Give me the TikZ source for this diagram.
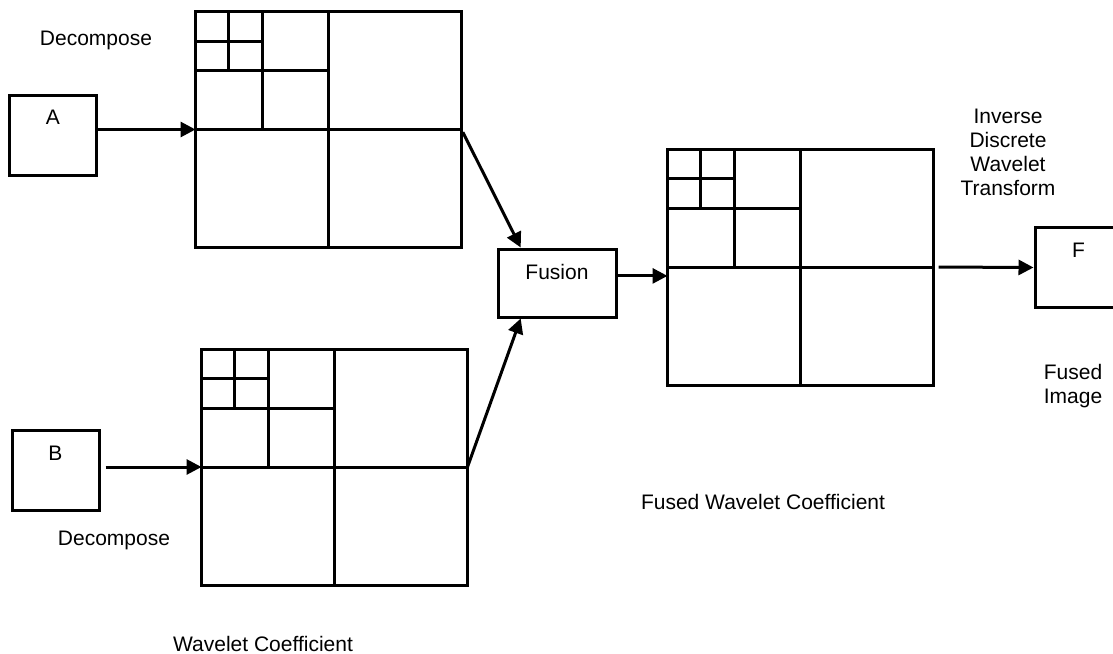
\documentclass[tikz,border=0pt]{standalone}
\usepackage{fontspec}
\setmainfont{Liberation Sans}
\usetikzlibrary{arrows.meta,positioning,calc}

\tikzset{
  imgbox/.style={draw, line width=1.5pt, minimum width=43.5pt, minimum height=40pt, inner sep=0pt},
  boxtext/.style={anchor=center, yshift=-12pt},
  coeffgrid/.style={draw, line width=1.5pt, minimum width=133pt, minimum height=118pt, inner sep=0pt, outer sep=0pt},
  gridline/.style={line width=1.5pt},
  flow/.style={line width=1.5pt, -{Triangle[length=7.5pt, width=7.5pt]}},
  caption/.style={anchor=base},
}

\begin{document}
\begin{tikzpicture}[x=0.5pt, y=-0.5pt, font=\fontsize{10.5}{12}\selectfont]
\useasboundingbox (0,0) rectangle (1113,653);

% Source images
\node[imgbox, label={[boxtext]north:A}] (A) at (53,135) {};
\node[imgbox, label={[boxtext]north:B}] (B) at (55.5,470.5) {};

% Wavelet coefficient grids
\node[coeffgrid] (wcA) at (328.5,129.5) {};
\node[coeffgrid] (wcB) at (334.5,467) {};
\node[coeffgrid] (wcF) at (800.5,267) {};
\foreach \g in {wcA,wcB,wcF}{
  % first level
  \draw[gridline] (\g.north) -- (\g.south) (\g.west) -- (\g.east);
  % second level
  \draw[gridline] ($(\g.north west)!.5!(\g.north)$) -- ($(\g.west)!.5!(\g.center)$)
    ($(\g.north west)!.5!(\g.west)$) -- ($(\g.north)!.5!(\g.center)$);
  % third level
  \draw[gridline] ($(\g.north west)!.25!(\g.north)$) -- ++(0,59)
    ($(\g.north west)!.25!(\g.west)$) -- ++(66.5,0);
}

% Fusion and fused image
\node[imgbox, minimum width=59pt, minimum height=34pt, label={[boxtext]north:Fusion}] (fusion) at (557,283) {};
\node[imgbox, label={[boxtext]north:F}] (F) at (1078.5,267.5) {};

% Connectors
\draw[flow] (A.east |- wcA.west) -- (wcA.west);
\draw[flow, shorten <=2.5pt] (B.east |- wcB.west) -- (wcB.west);
\draw[flow, shorten <=1.5pt] (wcA.east) -- ($(fusion.north west)!.2!(fusion.north east)$);
\draw[flow] (wcB.east) -- ($(fusion.south west)!.2!(fusion.south east)$);
\draw[flow] ($(fusion.north east)!.4!(fusion.south east)$) coordinate (fout) -- (fout -| wcF.west);
\draw[flow, shorten <=2.5pt] (wcF.east) -- (F.west);

% Captions
\node[caption] (decA) at (96,45) {Decompose};
\node[caption] (decB) at (114,545) {Decompose};
\node[caption] (wclabel) at (263,651) {Wavelet Coefficient};
\node[caption] (fwclabel) at (763,509.5) {Fused Wavelet Coefficient};
\node[align=center] (idwt) at (1008,152) {Inverse\\Discrete\\Wavelet\\Transform};
\node[align=center] (fused) at (1073,386) {Fused\\Image};
\end{tikzpicture}
\end{document}
